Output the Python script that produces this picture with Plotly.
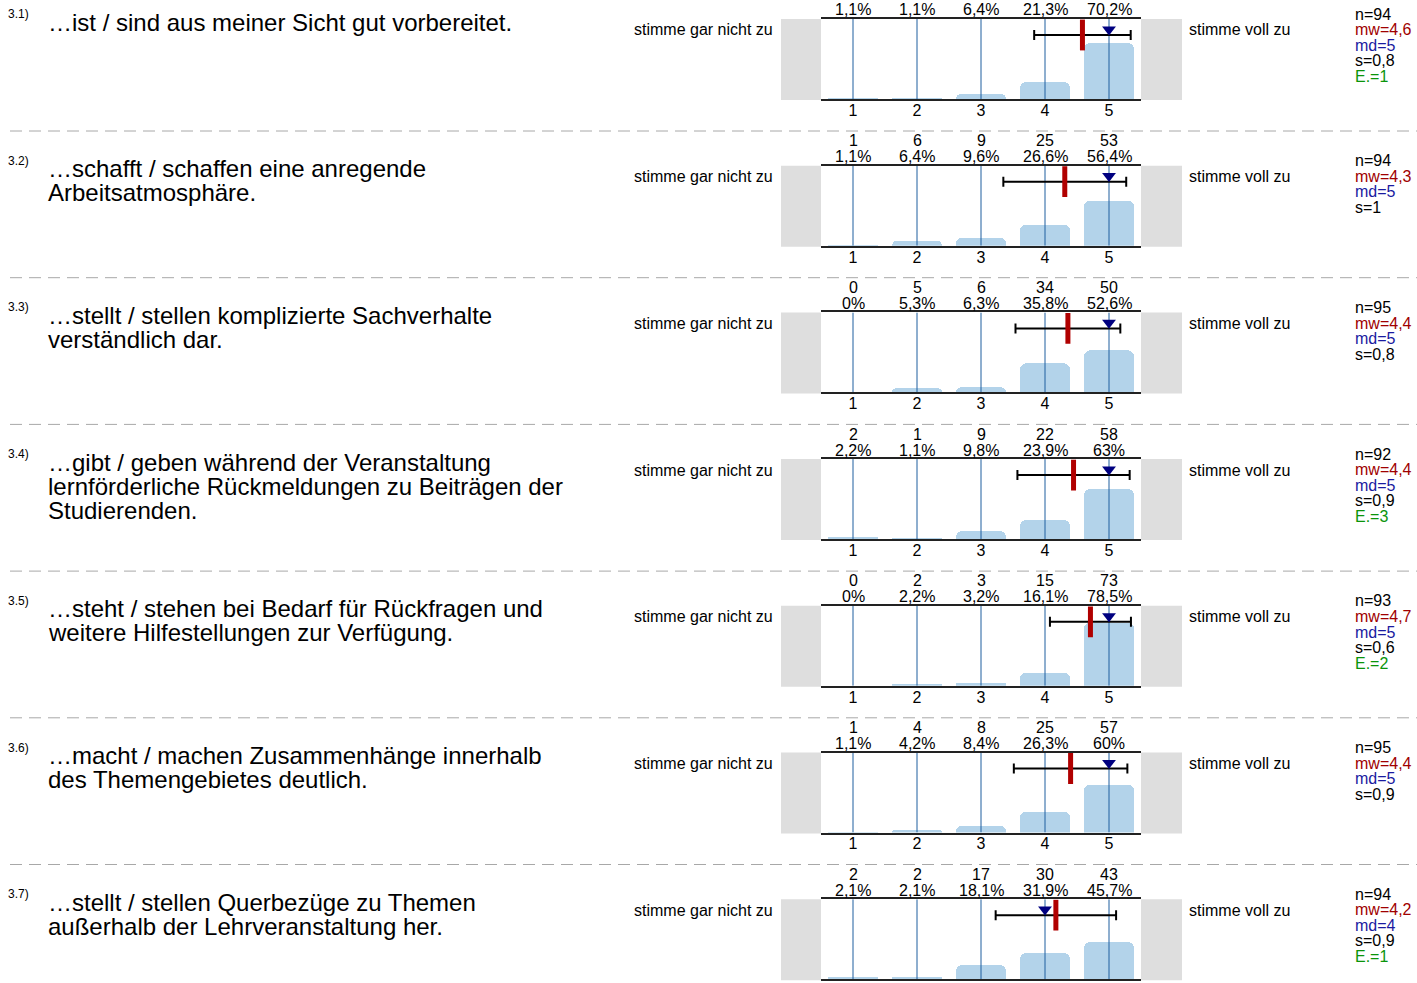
import plotly.graph_objects as go

# ---------------- data ----------------
item_ids = ["3.1)", "3.2)", "3.3)", "3.4)", "3.5)", "3.6)", "3.7)"]
questions = [
    ["…ist / sind aus meiner Sicht gut vorbereitet."],
    ["…schafft / schaffen eine anregende", "Arbeitsatmosphäre."],
    ["…stellt / stellen komplizierte Sachverhalte", "verständlich dar."],
    ["…gibt / geben während der Veranstaltung",
     "lernförderliche Rückmeldungen zu Beiträgen der", "Studierenden."],
    ["…steht / stehen bei Bedarf für Rückfragen und",
     "weitere Hilfestellungen zur Verfügung."],
    ["…macht / machen Zusammenhänge innerhalb", "des Themengebietes deutlich."],
    ["…stellt / stellen Querbezüge zu Themen", "außerhalb der Lehrveranstaltung her."],
]
scale = [1, 2, 3, 4, 5]
counts = [
    None,
    [1, 6, 9, 25, 53],
    [0, 5, 6, 34, 50],
    [2, 1, 9, 22, 58],
    [0, 2, 3, 15, 73],
    [1, 4, 8, 25, 57],
    [2, 2, 17, 30, 43],
]
percents = [
    [1.1, 1.1, 6.4, 21.3, 70.2],
    [1.1, 6.4, 9.6, 26.6, 56.4],
    [0, 5.3, 6.3, 35.8, 52.6],
    [2.2, 1.1, 9.8, 23.9, 63],
    [0, 2.2, 3.2, 16.1, 78.5],
    [1.1, 4.2, 8.4, 26.3, 60],
    [2.1, 2.1, 18.1, 31.9, 45.7],
]
n_vals = [94, 94, 95, 92, 93, 95, 94]
means = [4.585, 4.309, 4.358, 4.446, 4.710, 4.400, 4.170]
sds = [0.754, 0.960, 0.819, 0.877, 0.633, 0.887, 0.941]
medians = [5, 5, 5, 5, 5, 5, 4]
abstentions = [1, None, None, 3, 2, None, 1]
left_label = "stimme gar nicht zu"
right_label = "stimme voll zu"

# ---------------- layout constants (pixels) ----------------
W, H = 1417, 983
ROW = 146.7
TOP0 = 19.0
PH = 80.0
X0, X1 = 821.0, 1141.0
FONT = "Liberation Sans, Arial, sans-serif"

BAR_COLOR = "#b3d3ea"
GRID_COLOR = "#1f5f9f"
MEAN_COLOR = "#b00000"
MED_COLOR = "#000080"
MW_TXT = "#a00000"
MD_TXT = "#1a1aa0"
E_TXT = "#0a940a"


def px(x):
    return x / W


def py(y):
    return 1 - y / H


def de(v):
    return f"{v:g}".replace(".", ",")


fig = go.Figure()
annotations = []
shapes = []
layout_axes = {}
n_rows = len(item_ids)

for i in range(n_rows):
    s = "" if i == 0 else str(i + 1)
    xa, ya = "x" + s, "y" + s
    top = TOP0 + ROW * i
    bot = top + PH

    layout_axes["xaxis" + s] = dict(
        domain=[px(X0), px(X1)], range=[0.5, 5.5], anchor=ya,
        tickmode="array", tickvals=scale, ticktext=[str(v) for v in scale],
        tickfont=dict(size=16, color="black", family=FONT), ticks="",
        ticklabelstandoff=-4,
        # the last row's scale labels fall below the visible canvas
        showticklabels=(i < n_rows - 1),
        showgrid=False, zeroline=False, showline=True, mirror=True,
        linecolor="#222222", linewidth=1.5, fixedrange=True,
    )
    layout_axes["yaxis" + s] = dict(
        domain=[py(bot), py(top)], range=[0, 100], anchor=xa,
        showticklabels=False, showgrid=False, zeroline=False, showline=False,
        fixedrange=True,
    )

    # bars
    fig.add_trace(go.Bar(
        x=scale, y=percents[i], xaxis=xa, yaxis=ya, width=0.79,
        marker=dict(color=BAR_COLOR, line=dict(width=0), cornerradius=6),
        hoverinfo="skip", showlegend=False,
    ))
    # vertical scale lines
    gx, gy = [], []
    for k in scale:
        gx += [k, k, None]
        gy += [0, 100, None]
    fig.add_trace(go.Scatter(
        x=gx, y=gy, xaxis=xa, yaxis=ya, mode="lines",
        line=dict(color=GRID_COLOR, width=1), hoverinfo="skip", showlegend=False,
    ))
    # mean +- sd
    fig.add_trace(go.Scatter(
        x=[means[i]], y=[80], xaxis=xa, yaxis=ya, mode="markers",
        marker=dict(size=1, color="black"),
        error_x=dict(type="data", array=[sds[i]], color="black", thickness=2, width=5),
        hoverinfo="skip", showlegend=False,
    ))
    # median triangle
    fig.add_trace(go.Scatter(
        x=[medians[i]], y=[87], xaxis=xa, yaxis=ya, mode="markers",
        marker=dict(symbol="triangle-down", size=12, color=MED_COLOR),
        hoverinfo="skip", showlegend=False,
    ))
    # mean marker
    fig.add_trace(go.Scatter(
        x=[means[i]], y=[80], xaxis=xa, yaxis=ya, mode="markers",
        marker=dict(symbol="line-ns", size=22,
                    line=dict(color=MEAN_COLOR, width=5)),
        hoverinfo="skip", showlegend=False,
    ))

    # grey side boxes
    for (a, b) in [(781, X0), (X1, 1182)]:
        shapes.append(dict(type="rect", xref="paper", yref="paper",
                           x0=px(a), x1=px(b), y0=py(bot + 1), y1=py(top),
                           fillcolor="#dedede", line=dict(width=0), layer="below"))

    # labels above bars
    for j, k in enumerate(scale):
        annotations.append(dict(
            x=k, xref=xa, y=py(top - 9), yref="paper", text=de(percents[i][j]) + "%",
            showarrow=False, xanchor="center", yanchor="middle",
            font=dict(size=16, color="black", family=FONT)))
        if counts[i] is not None:
            annotations.append(dict(
                x=k, xref=xa, y=py(top - 25), yref="paper", text=str(counts[i][j]),
                showarrow=False, xanchor="center", yanchor="middle",
                font=dict(size=16, color="black", family=FONT)))

    # item id
    annotations.append(dict(
        x=px(6), y=py(top - 5), xref="paper", yref="paper", text=item_ids[i],
        showarrow=False, xanchor="left", yanchor="middle",
        font=dict(size=12, color="black", family=FONT)))
    # question lines
    for li, line in enumerate(questions[i]):
        annotations.append(dict(
            x=px(46), y=py(top + 3 + 24 * li), xref="paper", yref="paper", text=line,
            showarrow=False, xanchor="left", yanchor="middle",
            font=dict(size=24, color="black", family=FONT)))
    # pole labels
    annotations.append(dict(
        x=px(775), y=py(top + 11), xref="paper", yref="paper", text=left_label,
        showarrow=False, xanchor="right", yanchor="middle",
        font=dict(size=16, color="black", family=FONT)))
    annotations.append(dict(
        x=px(1187), y=py(top + 11), xref="paper", yref="paper", text=right_label,
        showarrow=False, xanchor="left", yanchor="middle",
        font=dict(size=16, color="black", family=FONT)))
    # statistics
    stats = [(f"n={n_vals[i]}", "black"),
             (f"mw={de(round(means[i], 1))}", MW_TXT),
             (f"md={medians[i]}", MD_TXT),
             (f"s={de(round(sds[i], 1))}", "black")]
    if abstentions[i] is not None:
        stats.append((f"E.={abstentions[i]}", E_TXT))
    for si, (txt, col) in enumerate(stats):
        annotations.append(dict(
            x=px(1353), y=py(top - 5 + 15.6 * si), xref="paper", yref="paper",
            text=txt, showarrow=False, xanchor="left", yanchor="middle",
            font=dict(size=16, color=col, family=FONT)))

    # dashed separator
    if i < n_rows - 1:
        yy = top + 112
        shapes.append(dict(type="line", xref="paper", yref="paper",
                           x0=px(10), x1=1, y0=py(yy), y1=py(yy),
                           line=dict(color="#a8a8a8", width=1, dash="12px,7px")))

fig.update_layout(
    width=W, height=H,
    margin=dict(l=0, r=0, t=0, b=0, autoexpand=False),
    paper_bgcolor="white", plot_bgcolor="white",
    showlegend=False, bargap=0,
    font=dict(family=FONT, size=16, color="black"),
    annotations=annotations, shapes=shapes,
    **layout_axes,
)

fig.write_html("out.html", config={"displayModeBar": False},
               post_script="document.body.style.margin='0';")
